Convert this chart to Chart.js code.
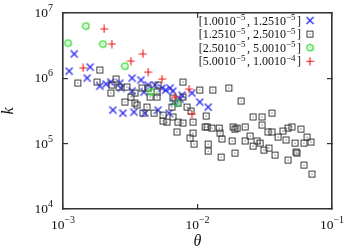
<!DOCTYPE html>
<html><head><meta charset="utf-8">
<script src="https://cdn.jsdelivr.net/npm/chart.js@4/dist/chart.umd.min.js"></script>
<style>html,body{margin:0;padding:0;background:#fff}canvas{display:block}</style>
</head><body>
<canvas id="c" width="347" height="251"></canvas>
<script>
// ---- data ----
const seriesLabels = ["[1.0010⁻⁵, 1.2510⁻⁵]", "[1.2510⁻⁵, 2.5010⁻⁵]", "[2.5010⁻⁵, 5.0010⁻⁵]", "[5.0010⁻⁵, 1.0010⁻⁴]"];

const blueTheta = [1.21e-3,1.11e-3,1.59e-3,1.51e-3,1.88e-3,2.09e-3,2.27e-3,2.65e-3,2.70e-3,3.26e-3,3.80e-3,4.29e-3,4.83e-3,5.45e-3,5.80e-3,6.25e-3,6.57e-3,7.67e-3,7.41e-3,9.10e-3,3.26e-3,4.00e-3,6.69e-3,1.04e-2,1.20e-2,2.35e-3,2.79e-3,3.37e-3,4.07e-3,5.09e-3,6.14e-3];
const blueK     = [2.36e6,1.29e6,1.49e6,1.01e6,7.62e5,8.18e5,8.78e5,8.47e5,7.10e5,1.01e6,9.42e5,7.90e5,7.90e5,7.10e5,6.60e5,7.10e5,6.39e5,5.55e5,4.82e5,5.96e5,6.40e5,6.17e5,4.34e5,4.34e5,3.63e5,3.27e5,2.94e5,3.05e5,2.94e5,3.27e5,2.94e5];

const grayTheta = [1.29e-3,1.79e-3,1.88e-3,2.31e-3,2.48e-3,2.27e-3,2.61e-3,2.99e-3,3.43e-3,2.89e-3,3.20e-3,3.43e-3,3.55e-3,4.21e-3,3.93e-3,4.75e-3,5.54e-3,5.54e-3,4.29e-3,5.00e-3,4.44e-3,5.09e-3,5.00e-3,3.87e-3,6.57e-3,7.16e-3,7.80e-3,7.80e-3,8.36e-3,6.46e-3,6.57e-3,5.93e-3,7.16e-3,7.80e-3,8.95e-3,
  1.04e-2,1.30e-2,1.71e-2,2.11e-2,1.16e-2,1.28e-2,9.26e-3,2.59e-2,3.02e-2,3.58e-2,1.84e-2,1.90e-2,2.26e-2,3.02e-2,3.34e-2,3.58e-2,4.32e-2,4.71e-2,5.04e-2,5.88e-2,6.52e-2,3.97e-2,2.46e-2,2.26e-2,2.77e-2,2.92e-2,2.59e-2,4.55e-2,5.31e-2,6.19e-2,6.98e-2,1.81e-2,1.90e-2,3.12e-2,3.40e-2,3.77e-2,4.71e-2,5.49e-2,5.40e-2,6.19e-2,7.10e-2,
  7.04e-3,9.26e-3,8.80e-3,9.42e-3,1.14e-2,1.18e-2,1.20e-2,1.20e-2,1.45e-2,1.47e-2,1.52e-2,1.97e-2,1.50e-2];
const grayK     = [8.47e5,8.78e5,1.34e6,7.90e5,9.75e5,5.96e5,7.36e5,7.36e5,5.96e5,4.34e5,5.17e5,4.18e5,3.90e5,3.63e5,2.94e5,2.94e5,2.74e5,2.22e5,7.10e5,6.17e5,5.17e5,7.90e5,5.17e5,7.10e5,4.99e5,4.18e5,8.78e5,5.17e5,3.63e5,3.63e5,2.56e5,2.14e5,2.14e5,2.07e5,3.16e5,
  6.62e5,6.62e5,7.10e5,4.49e5,2.65e5,1.73e5,2.14e5,2.56e5,2.56e5,2.94e5,1.80e5,1.67e5,1.80e5,1.93e5,1.51e5,1.51e5,1.56e5,1.73e5,1.80e5,1.67e5,1.26e5,1.26e5,1.31e5,1.10e5,1.10e5,1.02e5,9.19e4,1.14e5,1.02e5,1.02e5,1.06e5,1.10e5,7.18e4,7.98e4,8.56e4,6.69e4,5.61e4,7.18e4,7.44e4,4.70e4,3.42e4,
  1.51e5,1.45e5,1.22e5,9.86e4,1.80e5,1.80e5,9.86e4,7.70e4,1.73e5,1.45e5,1.18e5,1.73e5,6.23e4];

const greenTheta = [1.48e-3,1.09e-3,1.98e-3,2.89e-3,4.51e-3,7.04e-3];
const greenK     = [6.32e6,3.47e6,3.35e6,1.54e6,6.17e5,4.18e5];

const redTheta = [2.02e-3,2.31e-3,3.93e-3,3.20e-3,1.41e-3,4.29e-3,5.45e-3,8.65e-3,6.80e-3,9.10e-3];
const redK     = [5.69e6,3.35e6,2.36e6,1.84e6,1.44e6,1.25e6,9.75e5,6.86e5,5.17e5,2.84e5];

const xTickValues = [1e-3, 1e-2, 1e-1];
const xTickLabels = ["10⁻³", "10⁻²", "10⁻¹"];
const yTickValues = [1e4, 1e5, 1e6, 1e7];
const yTickLabels = ["10⁴", "10⁵", "10⁶", "10⁷"];
const xTitle = "θ";
const yTitle = "k";

// ---- rendering helpers ----
const FAMILY = '"Liberation Serif", "DejaVu Serif", serif';
const SUP = {'⁰':'0','¹':'1','²':'2','³':'3','⁴':'4','⁵':'5','⁶':'6','⁷':'7','⁸':'8','⁹':'9','⁻':'−'};
function runs(text){
  const out=[];
  for (const ch of text){
    const sup = ch in SUP; const c = sup ? SUP[ch] : ch;
    if (out.length && out[out.length-1].sup===sup) out[out.length-1].t += c;
    else out.push({t:c, sup});
  }
  return out;
}
function drawRich(ctx, text, x, y, align, size, supSize, raise, supGap){
  const rs = runs(text); let total = 0;
  rs.forEach(r => { ctx.font = (r.sup?supSize:size)+'px '+FAMILY; r.w = ctx.measureText(r.t).width + (r.sup?supGap:0); total += r.w; });
  let cx = align==='right' ? x-total : (align==='center' ? x-total/2 : x);
  ctx.textAlign='left'; ctx.textBaseline='alphabetic'; ctx.fillStyle='#111';
  rs.forEach(r => { ctx.font = (r.sup?supSize:size)+'px '+FAMILY; ctx.fillText(r.t, cx, r.sup ? y-raise : y); cx += r.w; });
}
function marker(kind, color){
  const c=document.createElement('canvas'); c.width=9; c.height=9; const g=c.getContext('2d');
  g.strokeStyle=color; g.fillStyle=color; g.lineWidth=1.2;
  if (kind==='x'){ g.beginPath(); g.moveTo(1,1); g.lineTo(8,8); g.moveTo(8,1); g.lineTo(1,8); g.stroke(); }
  else if (kind==='plus'){ g.beginPath(); g.moveTo(4.5,0.5); g.lineTo(4.5,8.5); g.moveTo(0.5,4.5); g.lineTo(8.5,4.5); g.stroke(); }
  else if (kind==='square'){ g.lineWidth=1; g.strokeRect(1.5,1.5,6,6); g.fillRect(4,4,1,1); }
  else { g.lineWidth=1.3; g.beginPath(); g.arc(4.5,4.5,3.2,0,2*Math.PI); g.stroke(); g.fillRect(4,4,1,1); }
  return c;
}
const pts = (xs, ys) => xs.map((x,i)=>({x, y: ys[i]}));

const markers = [marker('x','#2222ee'), marker('square','#3a3a3a'), marker('circle','#2edc2e'), marker('plus','#ee1c1c')];

const datasets = [
  {label: seriesLabels[0], data: pts(blueTheta, blueK), pointStyle: markers[0], order: 3},
  {label: seriesLabels[1], data: pts(grayTheta, grayK), pointStyle: markers[1], order: 2},
  {label: seriesLabels[2], data: pts(greenTheta, greenK), pointStyle: markers[2], order: 1},
  {label: seriesLabels[3], data: pts(redTheta, redK), pointStyle: markers[3], order: 0},
].map(d => Object.assign(d, {showLine:false, pointRadius:4.5, pointHoverRadius:4.5}));

const gridOpts = {display:true, drawOnChartArea:false, drawTicks:true, tickLength:-5, color:'#333', lineWidth:1.2};
const borderOpts = {display:true, color:'#333', width:1.6};

const tickLabelPlugin = {
  id:'tickLabels',
  afterDraw(chart){
    const ctx = chart.ctx, xs = chart.scales.x, ys = chart.scales.y;
    ctx.save();
    xTickValues.forEach((v,i)=> drawRich(ctx, xTickLabels[i], xs.getPixelForValue(v), xs.top+20, 'center', 13.5, 10, 6, 0));
    yTickValues.forEach((v,i)=> drawRich(ctx, yTickLabels[i], ys.right-10, ys.getPixelForValue(v)+4, 'right', 13.5, 10, 6, 0));
    // legend inside chart area
    const a = chart.chartArea;
    chart.data.datasets.forEach((ds,i)=>{
      const yRow = a.top + 7.5 + i*13.6;
      drawRich(ctx, ds.label, a.right-31, yRow+4, 'right', 12, 9, 4.5, 1.5);
      const m = ds.pointStyle;
      ctx.drawImage(m, a.right-22-m.width/2, yRow-m.height/2);
    });
    ctx.restore();
  }
};

const scaleBase = (pos, min, max, vals) => ({
  type:'logarithmic', position:pos, min, max, display:true,
  afterBuildTicks: s => { s.ticks = vals.map(v=>({value:v})); },
  ticks:{display:false},
  grid: gridOpts, border: borderOpts
});

new Chart(document.getElementById('c'), {
  type:'scatter',
  data:{datasets},
  options:{
    responsive:false, animation:false, events:[],
    layout:{padding:0},
    plugins:{legend:{display:false}, tooltip:{enabled:false}},
    scales:{
      x: Object.assign(scaleBase('bottom',1e-3,1e-1,xTickValues), {
        title:{display:true, text:xTitle, color:'#111', font:{family:FAMILY, size:16, style:'italic', lineHeight:1.2}, padding:{top:0,bottom:0}},
        afterFit: s => { s.height = 42; }
      }),
      x2: Object.assign(scaleBase('top',1e-3,1e-1,xTickValues), { afterFit: s => { s.height = 13; } }),
      y: Object.assign(scaleBase('left',1e4,1e7,yTickValues), {
        title:{display:true, text:yTitle, color:'#111', font:{family:FAMILY, size:16, style:'italic', lineHeight:1.1}, padding:{top:0,bottom:0}},
        afterFit: s => { s.width = 63; }
      }),
      y2: Object.assign(scaleBase('right',1e4,1e7,yTickValues), { afterFit: s => { s.width = 15; } })
    }
  },
  plugins:[tickLabelPlugin]
});
</script>
</body></html>
